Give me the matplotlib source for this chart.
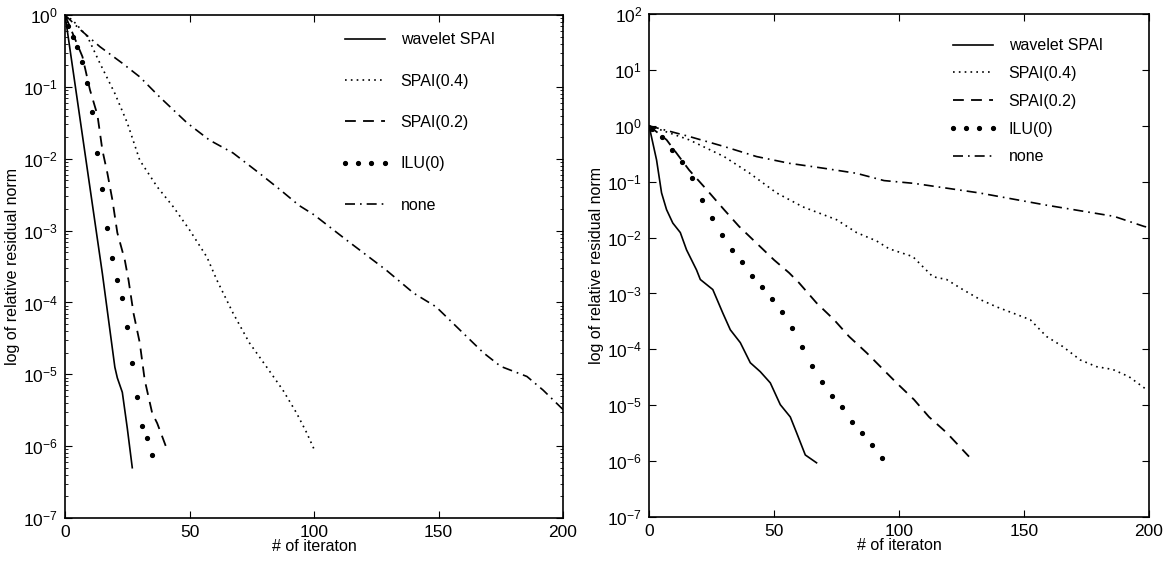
import numpy as np
import matplotlib
matplotlib.use("Agg")
import matplotlib.pyplot as plt

plt.rcParams['font.family'] = ['Liberation Sans', 'DejaVu Sans']
plt.rcParams['font.size'] = 11

labels = ['wavelet SPAI', 'SPAI(0.4)', 'SPAI(0.2)', 'ILU(0)', 'none']

# left panel, values read as log10(relative residual)
l_wav_x = [0, 5, 10, 15, 20, 21, 23, 25, 27]
l_wav_y = [0, -1.2, -2.4, -3.6, -4.9, -5.05, -5.25, -5.75, -6.3]
l_s4_x = [0, 3, 9, 14, 20, 25, 30, 37, 43.5, 50, 57, 61, 67.5, 74, 81, 87.5, 93, 97, 100.5]
l_s4_y = [0, -0.07, -0.3, -0.67, -1.09, -1.5, -2.02, -2.39, -2.67, -2.99, -3.37, -3.69,
          -4.15, -4.56, -4.9, -5.22, -5.54, -5.81, -6.08]
l_s2_x = [0, 3, 7, 10, 13, 15, 17, 19, 21, 24, 25.5, 27.5, 30, 32, 35, 37, 39.5, 41]
l_s2_y = [0, -0.25, -0.58, -1.04, -1.39, -1.88, -2.2, -2.57, -3.03, -3.41, -3.69, -4.15,
          -4.56, -5.08, -5.54, -5.68, -5.91, -6.05]
l_ilu_x = [1, 3, 5, 7, 9, 11, 13, 15, 17, 19, 21, 23, 25, 27, 29, 31, 33, 35]
l_ilu_y = [-0.15, -0.3, -0.45, -0.65, -0.95, -1.35, -1.92, -2.42, -2.96, -3.38, -3.69,
           -3.94, -4.34, -4.84, -5.31, -5.72, -5.88, -6.12]
l_none_x = [0, 6, 14, 23, 30, 38, 49, 58, 67.5, 78, 86, 94, 100, 113, 129, 140, 149,
            158.5, 168, 175, 185.5, 192, 200]
l_none_y = [0, -0.2, -0.44, -0.67, -0.86, -1.14, -1.5, -1.74, -1.92, -2.2, -2.42, -2.65,
            -2.78, -3.13, -3.55, -3.87, -4.06, -4.38, -4.7, -4.89, -5.03, -5.22, -5.49]

# right panel
r_wav_x = [0, 3, 5, 7, 9.5, 12.5, 15, 19, 20.5, 25.5, 29.5, 32.5, 36.5, 40.5, 44.5, 48.5,
           52.5, 56.5, 59, 62.5, 67]
r_wav_y = [0, -0.61, -1.2, -1.5, -1.74, -1.91, -2.22, -2.58, -2.75, -2.93, -3.35, -3.65,
           -3.88, -4.24, -4.4, -4.6, -4.99, -5.21, -5.49, -5.89, -6.03]
r_s4_x = [0, 16, 30, 40, 51, 61.5, 75, 83, 91, 96, 105.5, 113.5, 119, 125.5, 132.5, 139,
          145.5, 152.5, 159, 165.5, 172.5, 179, 185.5, 192, 199]
r_s4_y = [0, -0.25, -0.55, -0.84, -1.2, -1.45, -1.68, -1.91, -2.06, -2.2, -2.34, -2.7,
          -2.75, -2.93, -3.11, -3.24, -3.35, -3.47, -3.77, -3.95, -4.19, -4.31, -4.36,
          -4.49, -4.72]
r_s2_x = [0, 7, 11, 16, 23, 30, 36, 43, 50, 56, 60, 67, 74, 80, 87, 93, 99, 106, 112,
          119, 128]
r_s2_y = [0, -0.25, -0.49, -0.79, -1.14, -1.5, -1.8, -2.1, -2.4, -2.63, -2.81, -3.17,
          -3.47, -3.77, -4.06, -4.33, -4.6, -4.9, -5.21, -5.49, -5.92]
r_ilu_x = [1, 5, 9, 13, 17, 21, 25, 29, 33, 37, 41, 45, 49, 53, 57, 61, 65, 69, 73, 77,
           81, 85, 89, 93]
r_ilu_y = [-0.05, -0.2, -0.43, -0.65, -0.94, -1.32, -1.65, -1.95, -2.22, -2.43, -2.68,
           -2.88, -3.1, -3.33, -3.61, -3.95, -4.29, -4.58, -4.83, -5.04, -5.3, -5.49,
           -5.71, -5.94]
r_none_x = [0, 16, 30, 43, 56, 70, 83, 94, 106, 132, 159, 186, 198, 200]
r_none_y = [0, -0.19, -0.37, -0.55, -0.67, -0.76, -0.85, -0.98, -1.03, -1.2, -1.42,
            -1.62, -1.8, -1.82]

fig = plt.figure(figsize=(11.72, 5.67), dpi=100)
ax1 = fig.add_axes([0.0555, 0.0864, 0.4249, 0.887])
ax2 = fig.add_axes([0.5538, 0.0882, 0.4266, 0.887])


def draw(ax, wav, s4, s2, ilu, none, ymax, lspace, anchor):
    p = lambda v: 10.0 ** np.array(v)
    ax.plot(wav[0], p(wav[1]), c='k', lw=1.2, label=labels[0])
    ax.plot(s4[0], p(s4[1]), c='k', lw=1.2, ls=(0, (1, 2.5)), label=labels[1])
    ax.plot(s2[0], p(s2[1]), c='k', lw=1.3, ls=(0, (6, 4)), label=labels[2])
    ax.plot(ilu[0], p(ilu[1]), c='k', ls='none', marker='.', ms=5.5, label=labels[3])
    ax.plot(none[0], p(none[1]), c='k', lw=1.2, ls=(0, (6, 3, 1, 3)), label=labels[4])
    ax.set_yscale('log')
    ax.set_xlim(0, 200)
    ax.set_ylim(1e-7, ymax)
    ax.set_xticks([0, 50, 100, 150, 200])
    ax.set_yticks([10.0 ** k for k in range(-7, int(np.log10(ymax)) + 1)])
    ax.tick_params(which='both', direction='in', top=True, right=True)
    ax.tick_params(which='major', length=5, labelsize=12.5, pad=5)
    ax.tick_params(which='minor', length=2.5)
    ax.set_xlabel('# of iteraton', labelpad=-1, fontsize=11.5)
    ax.set_ylabel('log of relative residual norm', fontsize=11.5, labelpad=2)
    for s in ax.spines.values():
        s.set_linewidth(1.2)
    ax.legend(loc='upper left', frameon=False, numpoints=4, handlelength=3.1,
              handletextpad=0.7, borderpad=0, borderaxespad=0,
              labelspacing=lspace, bbox_to_anchor=anchor, fontsize=11.5)


draw(ax1, (l_wav_x, l_wav_y), (l_s4_x, l_s4_y), (l_s2_x, l_s2_y),
     (l_ilu_x, l_ilu_y), (l_none_x, l_none_y), 1e0, 1.65, (0.552, 0.966))
draw(ax2, (r_wav_x, r_wav_y), (r_s4_x, r_s4_y), (r_s2_x, r_s2_y),
     (r_ilu_x, r_ilu_y), (r_none_x, r_none_y), 1e2, 0.8, (0.598, 0.952))

fig.savefig('out.png', dpi=100)
